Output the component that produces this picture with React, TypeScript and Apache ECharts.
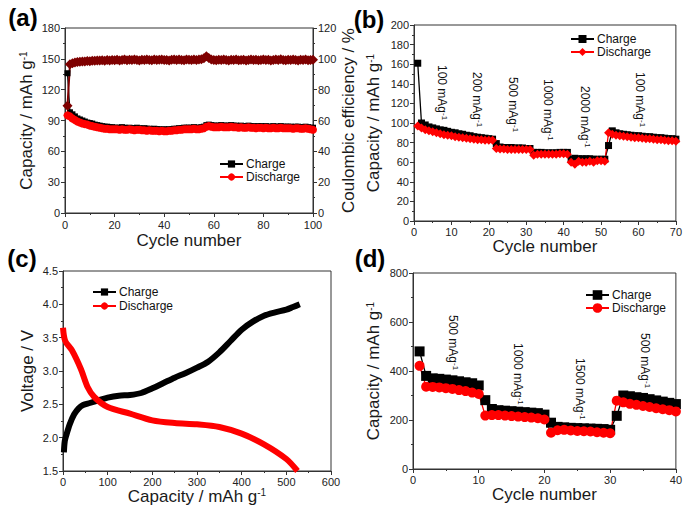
import React, { useEffect, useRef } from 'react';
import * as echarts from 'echarts';

const FONT = '"Liberation Sans", Arial, Helvetica, sans-serif';

// ---------- (a) long cycling ----------
const chargeA = [
  136, 98, 96, 94, 92, 91, 90, 89, 88, 87.5,
  87, 86, 85.5, 85, 84.5, 84, 84, 83.5, 83.5, 83,
  83, 83, 83.5, 83, 82.5, 83, 82.5, 82.5, 83, 82.5,
  82, 82.5, 82, 82, 81.5, 82, 81.5, 81.5, 81, 81.5,
  81, 81.5, 81.5, 82, 82, 82.5, 82.5, 83, 83, 83,
  83, 83.5, 83, 83, 83.5, 84, 85.5, 86, 85.5, 85,
  85, 85, 85.5, 85, 85, 85, 85.5, 85, 85, 84.5,
  85, 84.5, 84.5, 85, 84.5, 84.5, 84, 84.5, 84.5, 84,
  84.5, 84, 84, 84.5, 84, 84, 84.5, 84, 84, 84,
  84, 83.5, 84, 84, 83.5, 83.5, 84, 83.5, 83, 83,
];
const dischargeA = [
  95, 94, 92, 90.5, 89, 88, 87, 86.5, 86, 85,
  84.5, 84, 83.5, 83, 82.5, 82, 82, 81.5, 81.5, 81.5,
  81.5, 81, 81.5, 81, 81, 81.5, 81, 80.5, 81, 81,
  80.5, 80.5, 80, 80.5, 80, 80, 80, 79.5, 80, 79.5,
  79.5, 80, 80, 80.5, 80.5, 81, 81, 81.5, 81.5, 81.5,
  81.5, 82, 81.5, 81.5, 82, 82.5, 84, 84.5, 84, 83.5,
  83.5, 83.5, 84, 83.5, 83.5, 83.5, 84, 83.5, 83.5, 83,
  83.5, 83, 83, 83.5, 83, 83, 82.5, 83, 83, 82.5,
  83, 82.5, 82.5, 83, 82.5, 82.5, 83, 82.5, 82.5, 82.5,
  82.5, 82, 82.5, 82.5, 82, 82, 82.5, 82, 81.5, 81,
];
const efficiencyA = [
  69.5, 96.5, 97.2, 97.6, 97.9, 98.1, 98.3, 98.2, 98.6, 98.5,
  98.8, 98.7, 99.0, 98.9, 99.1, 98.8, 99.2, 99.0, 99.3, 99.1,
  99.4, 99.0, 99.3, 99.5, 99.1, 99.4, 99.2, 99.6, 99.3, 99.0,
  99.4, 99.2, 99.5, 99.3, 99.1, 99.5, 99.2, 99.4, 99.6, 99.2,
  99.3, 99.0, 99.4, 99.5, 99.2, 99.6, 99.3, 99.1, 99.5, 99.4,
  99.2, 99.6, 99.3, 99.5, 99.8, 100.4, 101.6, 100.5, 99.6, 99.3,
  99.1, 99.4, 99.2, 99.5, 99.3, 99.0, 99.4, 99.2, 99.5, 99.1,
  99.3, 99.4, 99.0, 99.3, 99.5, 99.2, 99.4, 99.1, 99.3, 99.5,
  99.2, 99.4, 99.0, 99.3, 99.6, 99.2, 99.8, 99.3, 99.1, 99.4,
  99.2, 99.5, 99.3, 99.0, 99.4, 99.2, 99.5, 99.1, 99.3, 99.4,
];

// ---------- (b) rate capability ----------
const chargeB = [
  161, 100, 98, 96, 95, 94, 93, 92.5, 91.5, 90.5,
  90, 89, 88.5, 87.5, 87, 86, 85.5, 85, 84.5, 84,
  83.5, 79, 75.5, 75, 75, 75, 74.5, 74.5, 74.5, 74,
  74, 70, 70, 70, 69.5, 69.5, 69.5, 69.5, 70, 70,
  70, 63, 64, 63.5, 63.5, 63.5, 63.5, 63, 63, 63,
  63, 77, 92, 90, 89, 88.5, 88, 87.5, 87, 87,
  86.5, 86, 86, 85.5, 85, 85, 84.5, 84, 84, 83.5,
];
const dischargeB = [
  97, 95, 93, 92, 91, 90, 89, 88, 87.5, 87,
  86, 85.5, 85, 84.5, 84, 83.5, 83, 83, 82.5, 82.5,
  82.5, 74, 73.5, 73.5, 73, 73, 73, 73, 73, 73,
  73, 67, 68, 68, 68, 68, 68, 68, 68.5, 68.5,
  68, 60, 58, 61, 60, 60, 61, 60, 61.5, 61.5,
  61, 90, 88.5, 87.5, 87, 86.5, 86, 85.5, 85, 85,
  84.5, 84, 84, 83.5, 83, 83, 82.5, 82, 82, 81.5,
];
const ratesB = ['100', '200', '500', '1000', '2000', '100'];

// ---------- (c) voltage profiles ----------
const capChargeC = [2, 4, 8, 15, 25, 35, 45, 60, 80, 100, 125, 150, 175, 200, 225, 250, 275, 300, 325, 350, 375, 400, 425, 450, 475, 500, 515, 530];
const voltChargeC = [1.78, 1.95, 2.05, 2.2, 2.35, 2.44, 2.49, 2.52, 2.56, 2.6, 2.63, 2.64, 2.67, 2.74, 2.82, 2.9, 2.97, 3.05, 3.14, 3.28, 3.45, 3.62, 3.74, 3.83, 3.88, 3.92, 3.96, 4.0];
const capDischargeC = [0, 5, 20, 40, 55, 70, 100, 150, 200, 250, 300, 350, 400, 450, 500, 525];
const voltDischargeC = [3.65, 3.45, 3.31, 3.03, 2.76, 2.61, 2.46, 2.36, 2.26, 2.22, 2.2, 2.16, 2.06, 1.9, 1.68, 1.5];

// ---------- (d) rate capability ----------
const chargeD = [
  480, 380, 370, 368, 365, 362, 358, 354, 350, 341,
  281, 245, 240, 238, 236, 234, 232, 230, 228, 222,
  189, 172, 170, 168, 167, 166, 165, 164, 163, 160,
  217, 300, 297, 293, 290, 285, 280, 275, 270, 265,
];
const dischargeD = [
  421, 336, 335, 333, 330, 327, 322, 318, 312, 306,
  218, 220, 220, 218, 216, 214, 212, 210, 207, 202,
  148, 158, 160, 157, 155, 154, 153, 150, 148, 146,
  279, 272, 266, 262, 257, 253, 248, 244, 240, 235,
];
const ratesD = ['500', '1000', '1500', '500'];

const INK = '#1a1a1a';
const capRich = {
  t: { fontSize: 17, fontFamily: FONT, color: INK },
  s: { fontSize: 10, fontFamily: FONT, color: INK, verticalAlign: 'top' },
};
const CAP_NAME = '{t|Capacity / mAh g}{s|-1}';

const tickLabel = (margin: number, extra: any = {}) => ({
  fontSize: 11,
  lineHeight: 11,
  color: '#222',
  fontFamily: FONT,
  margin,
  ...extra,
});

function valAxis(gridIndex: number, min: number, max: number, interval: number, extra: any = {}) {
  return {
    type: 'value',
    gridIndex,
    min,
    max,
    interval,
    axisLine: { show: true, onZero: false, lineStyle: { color: '#333', width: 1 } },
    axisTick: { show: true, length: 4, lineStyle: { color: '#333' } },
    minorTick: { show: true, splitNumber: 2, length: 2, lineStyle: { color: '#333' } },
    splitLine: { show: false },
    minorSplitLine: { show: false },
    axisLabel: tickLabel(5),
    nameLocation: 'middle',
    nameTextStyle: { fontSize: 17, color: INK, fontFamily: FONT, rich: capRich },
    ...extra,
  };
}

const pts = (ys: number[]) => ys.map((y, i) => [i + 1, y]);
const pairs = (xs: number[], ys: number[]) => xs.map((x, i) => [x, ys[i]]);

function lineSeries(name: string, xi: number, yi: number, data: any[], symbol: string, size: number, color: string, width = 1.3, z = 2) {
  return {
    name,
    type: 'line',
    xAxisIndex: xi,
    yAxisIndex: yi,
    data,
    symbol,
    symbolSize: size,
    itemStyle: { color },
    lineStyle: { color, width },
    z,
  };
}

function legend(tag: string, left: number, top: number, itemHeight: number, gap: number, extra: any = {}) {
  return {
    data: ['Charge_' + tag, 'Discharge_' + tag],
    orient: 'vertical',
    left,
    top,
    padding: 0,
    itemWidth: 23,
    itemHeight,
    itemGap: gap,
    formatter: (n: string) => n.split('_')[0],
    textStyle: { fontSize: 12, fontFamily: FONT, color: '#111', padding: [0, 0, 0, -2] },
    ...extra,
  };
}

function panelLabel(t: string, x: number, y: number) {
  return {
    type: 'text',
    x,
    y,
    style: {
      text: t,
      font: `bold 24px ${FONT}`,
      fill: '#000',
      textFill: '#000',
      align: 'center',
      textAlign: 'center',
      verticalAlign: 'middle',
      textVerticalAlign: 'middle',
    },
  };
}

function rateLabel(rate: string, x: number, y: number) {
  return {
    type: 'text',
    x,
    y,
    rotation: -Math.PI / 2,
    style: {
      text: `{n|${rate} mAg}{s|-1}`,
      rich: {
        n: { fontSize: 12, fontFamily: FONT, fill: '#111', textFill: '#111' },
        s: { fontSize: 8, fontFamily: FONT, fill: '#111', textFill: '#111', verticalAlign: 'top', textVerticalAlign: 'top' },
      },
      align: 'left',
      textAlign: 'left',
      verticalAlign: 'middle',
      textVerticalAlign: 'middle',
    },
  };
}

const posB = [[442, 65], [477, 72], [513, 77], [548, 79], [585, 86], [640, 72]];
const posD = [[453, 315], [518, 343], [580, 358], [645, 333]];

const option: any = {
  animation: false,
  textStyle: { fontFamily: FONT },
  grid: [
    { left: 65, top: 28, width: 248, height: 185, show: true, borderColor: '#333', borderWidth: 1 },
    { left: 414, top: 25, width: 263, height: 196, show: true, borderColor: '#333', borderWidth: 1 },
    { left: 63, top: 271, width: 268, height: 200, show: true, borderColor: '#333', borderWidth: 1 },
    { left: 413, top: 273, width: 264, height: 196, show: true, borderColor: '#333', borderWidth: 1 },
  ],
  xAxis: [
    valAxis(0, 0, 100, 20, { name: 'Cycle number', nameGap: 19, axisLabel: tickLabel(6) }),
    valAxis(1, 0, 70, 10, { name: 'Cycle number', nameGap: 17, axisLabel: tickLabel(5) }),
    valAxis(2, 0, 600, 100, { name: CAP_NAME, nameGap: 11, axisLabel: tickLabel(5) }),
    valAxis(3, 0, 40, 10, { name: 'Cycle number', nameGap: 13, axisLabel: tickLabel(5) }),
  ],
  yAxis: [
    valAxis(0, 0, 180, 30, { name: CAP_NAME, nameGap: 30, nameRotate: 90 }),
    valAxis(0, 0, 120, 20, { name: 'Coulombic efficiency / %', position: 'right', nameGap: 21, nameRotate: 90 }),
    valAxis(1, 0, 200, 20, { name: CAP_NAME, nameGap: 32, nameRotate: 90 }),
    valAxis(2, 1.5, 4.5, 0.5, {
      name: 'Voltage / V',
      nameGap: 27,
      nameRotate: 90,
      axisLabel: tickLabel(5, { formatter: (v: number) => v.toFixed(1) }),
    }),
    valAxis(3, 0, 800, 200, { name: CAP_NAME, nameGap: 31, nameRotate: 90 }),
  ],
  legend: [
    legend('a', 219, 158, 9, 1),
    legend('b', 570, 33, 10, 1),
    legend('c', 92, 286, 9, 2, { lineStyle: { width: 2 } }),
    legend('d', 585, 289, 12, 1),
  ],
  series: [
    lineSeries('Charge_a', 0, 0, pts(chargeA), 'rect', 6, '#000'),
    lineSeries('Discharge_a', 0, 0, pts(dischargeA), 'circle', 8, '#ff0000'),
    lineSeries('CE', 0, 1, pts(efficiencyA), 'diamond', 10, '#7f0000', 2),
    lineSeries('Charge_b', 1, 2, pts(chargeB), 'rect', 7, '#000'),
    lineSeries('Discharge_b', 1, 2, pts(dischargeB), 'diamond', 9, '#ff0000'),
    { ...lineSeries('Charge_c', 2, 3, pairs(capChargeC, voltChargeC), 'rect', 7, '#000', 6), showSymbol: false, smooth: 0.3 },
    { ...lineSeries('Discharge_c', 2, 3, pairs(capDischargeC, voltDischargeC), 'circle', 7, '#ff0000', 6), showSymbol: false, smooth: 0.3 },
    lineSeries('Charge_d', 3, 4, pts(chargeD), 'rect', 10, '#000'),
    lineSeries('Discharge_d', 3, 4, pts(dischargeD), 'circle', 10, '#ff0000'),
  ],
  graphic: [
    panelLabel('(a)', 23, 17),
    panelLabel('(b)', 369, 19),
    panelLabel('(c)', 22, 258),
    panelLabel('(d)', 370, 258),
    ...ratesB.map((r, i) => rateLabel(r, posB[i][0], posB[i][1])),
    ...ratesD.map((r, i) => rateLabel(r, posD[i][0], posD[i][1])),
  ],
};

export default function App() {
  const ref = useRef<HTMLDivElement>(null);
  useEffect(() => {
    const chart = echarts.init(ref.current!, null, { renderer: 'svg' });
    chart.setOption(option);
    return () => chart.dispose();
  }, []);
  return <div ref={ref} style={{ position: 'absolute', left: 0, top: 0, width: 685, height: 513 }} />;
}
